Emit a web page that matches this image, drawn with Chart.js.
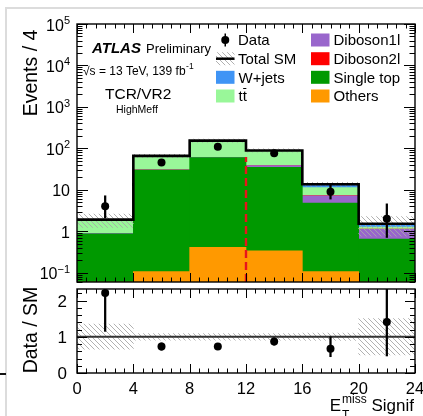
<!DOCTYPE html>
<html lang="en">
<head>
    <meta charset="UTF-8">
    <title>TCR/VR2 HighMeff - E_T^miss significance</title>
    <style>
        body {
            margin: 0;
            background-color: #fff;
        }

        .plot {
            position: relative;
            width: 423px;
            height: 416px;
            overflow: hidden;
        }

        .plot canvas {
            position: absolute;
            left: 0;
            top: 0;
        }

        .edge-top {
            position: absolute;
            left: 5px;
            top: 7px;
            width: 418px;
            height: 2px;
            background-color: #dcdcdc;
        }

        .edge-left {
            position: absolute;
            left: 5px;
            top: 7px;
            width: 2px;
            height: 409px;
            background-color: #dcdcdc;
        }

        .edge-mark {
            position: absolute;
            left: 0;
            top: 373px;
            width: 6px;
            height: 2px;
            background-color: #111;
        }
    </style>
</head>
<body>
<div class="plot">
    <div class="edge-top"></div>
    <div class="edge-left"></div>
    <div class="edge-mark"></div>
    <canvas id="mainChart" width="423" height="416"></canvas>
    <canvas id="ratioChart" width="423" height="416"></canvas>
</div>

<script src="https://cdn.jsdelivr.net/npm/chart.js"></script>
<script>
    // bins of E_T^miss significance
    const binEdges = [0, 4, 8, 12, 16, 20, 24];
    const binCentres = [2, 6, 10, 14, 18, 22];

    // stacked backgrounds, bottom to top (events / bin)
    const others     = [0, 0.107, 0.41, 0.34, 0.107, 0];
    const singleTop  = [0.87, 29.9, 59.6, 34.7, 4.7, 0.65];
    const diboson1l  = [0.02, 0.3, 0.8, 3.5, 2.4, 0.47];
    const diboson2l  = [0, 0.05, 0.1, 0.15, 0.1, 0.02];
    const ttbar      = [1.0, 35, 92, 49, 4.0, 0.13];
    const wjets      = [0.03, 0.7, 1.5, 1.0, 2.4, 0.25];

    const totalSM    = [1.92, 66, 154, 89, 13.7, 1.52];
    const smBandLow  = [1.25, 60, 140, 81, 12.3, 0.76];
    const smBandHigh = [2.6, 72, 168, 97, 15.3, 2.28];

    const dataCounts = [4, 46, 110, 76, 9, 2];
    const dataLow    = [2.1, 39.3, 99.6, 67.4, 6.0, 0.71];
    const dataHigh   = [7.2, 53.7, 121, 85.6, 13.1, 4.6];

    // lower panel
    const ratioValues = [2.21, 0.73, 0.73, 0.87, 0.67, 1.41];
    const ratioLow    = [1.15, 0.63, 0.66, 0.77, 0.45, 0.47];
    const ratioHigh   = [3.8, 0.83, 0.80, 0.97, 1.0, 3.0];
    const ratioBandLow  = [0.66, 0.91, 0.91, 0.91, 0.9, 0.5];
    const ratioBandHigh = [1.35, 1.09, 1.09, 1.09, 1.1, 1.5];

    // cut line
    const cutValue = 12;
    const cutTop = 62;

    // axis labels
    const mainDecades = [-1, 0, 1, 2, 3, 4, 5];
    const ratioYTicks = [0, 1, 2];
    const xTicks = [0, 4, 8, 12, 16, 20, 24];

    const FONT = '"Liberation Sans", Arial, Helvetica, sans-serif';

    const colours = {
        others: '#ff9900',
        singleTop: '#009900',
        diboson1l: '#9966cc',
        diboson2l: '#ff0000',
        ttbar: '#99f799',
        wjets: '#3f94f5'
    };

    function makeHatch(colour) {
        const c = document.createElement('canvas');
        c.width = 5;
        c.height = 5;
        const g = c.getContext('2d');
        g.strokeStyle = colour;
        g.lineWidth = 0.9;
        g.beginPath();
        g.moveTo(-1, -1); g.lineTo(6, 6);
        g.moveTo(-1, 4); g.lineTo(1, 6);
        g.moveTo(4, -1); g.lineTo(6, 1);
        g.stroke();
        return g.createPattern(c, 'repeat');
    }

    const hatch = makeHatch('#a8a8a8');

    const atBins = values => binCentres.map((x, i) => ({x: x, y: values[i]}));
    const rangeAtBins = (lo, hi) => binCentres.map((x, i) => ({x: x, y: [lo[i], hi[i]]}));
    const stepPoints = values => binEdges.map((x, i) => ({x: x, y: values[Math.min(i, values.length - 1)]}));

    function text(ctx, str, x, y, font, align) {
        ctx.font = font;
        ctx.textAlign = align || 'left';
        ctx.textBaseline = 'alphabetic';
        ctx.fillStyle = '#000';
        ctx.fillText(str, x, y);
    }

    function rotatedText(ctx, str, x, y, font) {
        ctx.save();
        ctx.translate(x, y);
        ctx.rotate(-Math.PI / 2);
        text(ctx, str, 0, 0, font, 'center');
        ctx.restore();
    }

    function tick(ctx, x1, y1, x2, y2) {
        ctx.beginPath();
        ctx.moveTo(x1, y1);
        ctx.lineTo(x2, y2);
        ctx.stroke();
    }

    // frame + inward ticks along x (shared by both panels)
    function drawFrameAndXTicks(chart) {
        const ctx = chart.ctx;
        const a = chart.chartArea;
        const xs = chart.scales.x;
        ctx.save();
        ctx.strokeStyle = '#000';
        ctx.lineWidth = 1;
        for (let k = 0; k <= 36; k++) {
            const v = k * 4 / 6;
            const px = Math.round(xs.getPixelForValue(v)) + 0.5;
            const len = k % 6 === 0 ? 9 : 4.5;
            tick(ctx, px, a.bottom, px, a.bottom - len);
            tick(ctx, px, a.top, px, a.top + len);
        }
        ctx.lineWidth = 1.4;
        ctx.strokeRect(a.left, a.top, a.right - a.left, a.bottom - a.top);
        ctx.restore();
    }

    const mainDecor = {
        id: 'mainDecor',
        afterDraw(chart) {
            const ctx = chart.ctx;
            const a = chart.chartArea;
            const ys = chart.scales.y;
            drawFrameAndXTicks(chart);

            // log ticks on both sides
            ctx.save();
            ctx.strokeStyle = '#000';
            ctx.lineWidth = 1;
            for (let e = -2; e <= 5; e++) {
                for (let m = 1; m <= 9; m++) {
                    const v = m * Math.pow(10, e);
                    if (v < ys.min || v > ys.max) continue;
                    const py = Math.round(ys.getPixelForValue(v)) + 0.5;
                    const len = m === 1 ? 11 : 5.5;
                    tick(ctx, a.left, py, a.left + len, py);
                    tick(ctx, a.right, py, a.right - len, py);
                }
            }
            ctx.restore();

            // y tick labels with exponents
            mainDecades.forEach(e => {
                const py = ys.getPixelForValue(Math.pow(10, e));
                const right = a.left - 7;
                if (e === 0 || e === 1) {
                    text(ctx, e === 0 ? '1' : '10', right, py + 6.5, '16px ' + FONT, 'right');
                } else {
                    const sup = e < 0 ? '\u2212' + (-e) : String(e);
                    ctx.font = '11px ' + FONT;
                    const sw = ctx.measureText(sup).width;
                    text(ctx, sup, right, py, '11px ' + FONT, 'right');
                    text(ctx, '10', right - sw, py + 6.5, '16px ' + FONT, 'right');
                }
            });

            rotatedText(ctx, 'Events / 4', 37, 73, '19.5px ' + FONT);

            // labels
            text(ctx, 'ATLAS', 92, 53, 'italic bold 15px ' + FONT);
            text(ctx, 'Preliminary', 146, 53, '13px ' + FONT);
            text(ctx, '\u221As = 13 TeV, 139 fb', 83, 74.5, '12px ' + FONT);
            ctx.font = '12px ' + FONT;
            const w = ctx.measureText('\u221As = 13 TeV, 139 fb').width;
            text(ctx, '-1', 83 + w + 0.5, 69, '8.5px ' + FONT);
            text(ctx, 'TCR/VR2', 105, 98.5, '15.5px ' + FONT);
            text(ctx, 'HighMeff', 116, 112.5, '10.5px ' + FONT);

            // legend
            const rows = [40, 58.7, 77.3, 96];
            const leftBox = 216, rightBox = 311, boxW = 18.5, boxH = 13;
            const lf = '15px ' + FONT;

            // Data
            ctx.save();
            ctx.fillStyle = '#000';
            ctx.strokeStyle = '#000';
            ctx.lineWidth = 1.5;
            tick(ctx, leftBox + boxW / 2, rows[0] - 6.5, leftBox + boxW / 2, rows[0] + 6.5);
            ctx.beginPath();
            ctx.arc(leftBox + boxW / 2, rows[0], 4, 0, Math.PI * 2);
            ctx.fill();
            // Total SM
            ctx.fillStyle = hatch;
            ctx.fillRect(leftBox, rows[1] - boxH / 2, boxW, boxH);
            ctx.lineWidth = 2.5;
            tick(ctx, leftBox, rows[1], leftBox + boxW, rows[1]);
            ctx.restore();
            text(ctx, 'Data', 238, rows[0] + 5.4, lf);
            text(ctx, 'Total SM', 238, rows[1] + 5.4, lf);

            const boxes = [
                [leftBox, rows[2], colours.wjets, 'W+jets'],
                [leftBox, rows[3], colours.ttbar, 'tt'],
                [rightBox, rows[0], colours.diboson1l, 'Diboson1l'],
                [rightBox, rows[1], colours.diboson2l, 'Diboson2l'],
                [rightBox, rows[2], colours.singleTop, 'Single top'],
                [rightBox, rows[3], colours.others, 'Others']
            ];
            boxes.forEach(b => {
                ctx.fillStyle = b[2];
                ctx.fillRect(b[0], b[1] - boxH / 2, boxW, boxH);
                text(ctx, b[3], b[0] + 22.5, b[1] + 5.4, lf);
            });
            // bar over the second t of ttbar
            ctx.font = lf;
            const tw = ctx.measureText('t').width;
            ctx.save();
            ctx.strokeStyle = '#000';
            ctx.lineWidth = 1;
            tick(ctx, leftBox + 22.5 + tw + 0.5, rows[3] - 7.5, leftBox + 22.5 + 2 * tw - 0.5, rows[3] - 7.5);
            ctx.restore();
        }
    };

    const ratioDecor = {
        id: 'ratioDecor',
        afterDraw(chart) {
            const ctx = chart.ctx;
            const a = chart.chartArea;
            const xs = chart.scales.x;
            const ys = chart.scales.y;
            drawFrameAndXTicks(chart);

            ctx.save();
            ctx.strokeStyle = '#000';
            ctx.lineWidth = 1;
            for (let k = 0; k <= 11; k++) {
                const v = k * 0.2;
                const py = Math.round(ys.getPixelForValue(v)) + 0.5;
                const len = k % 5 === 0 ? 10 : 5;
                tick(ctx, a.left, py, a.left + len, py);
                tick(ctx, a.right, py, a.right - len, py);
            }
            ctx.restore();

            ratioYTicks.forEach(v => {
                text(ctx, String(v), a.left - 10, ys.getPixelForValue(v) + 6, '17px ' + FONT, 'right');
            });
            xTicks.forEach(v => {
                text(ctx, String(v), xs.getPixelForValue(v), 393.5, '16.5px ' + FONT, 'center');
            });

            rotatedText(ctx, 'Data / SM', 37, 330, '19.5px ' + FONT);

            // x axis title, right aligned to the frame
            const tf = '17px ' + FONT, sf = '12px ' + FONT;
            ctx.font = tf;
            const wSig = ctx.measureText(' Signif').width;
            ctx.font = sf;
            const wMiss = ctx.measureText('miss').width;
            ctx.font = tf;
            const wE = ctx.measureText('E').width;
            const xEnd = a.right - 1;
            const xE = xEnd - wSig - wMiss - wE - 1;
            text(ctx, 'E', xE, 411, tf);
            text(ctx, 'miss', xE + wE + 1, 403, sf);
            text(ctx, 'T', xE + wE + 1, 419, sf);
            text(ctx, ' Signif', xEnd, 411, tf, 'right');
        }
    };

    const sharedBar = {
        grouped: false,
        barPercentage: 1,
        categoryPercentage: 1,
        borderWidth: 0
    };

    const stackLayers = [
        ['Others', others, colours.others],
        ['Single top', singleTop, colours.singleTop],
        ['Diboson1l', diboson1l, colours.diboson1l],
        ['Diboson2l', diboson2l, colours.diboson2l],
        ['ttbar', ttbar, colours.ttbar],
        ['W+jets', wjets, colours.wjets]
    ];

    new Chart(document.getElementById('mainChart'), {
        type: 'bar',
        data: {
            datasets: stackLayers.map(l => ({
                type: 'bar',
                label: l[0],
                data: atBins(l[1]),
                backgroundColor: l[2],
                stack: 'sm',
                order: 5
            })).concat([
                {
                    type: 'bar',
                    label: 'SM uncertainty',
                    data: rangeAtBins(smBandLow, smBandHigh),
                    backgroundColor: hatch,
                    stack: 'band',
                    order: 4
                },
                {
                    type: 'line',
                    label: 'Total SM',
                    data: stepPoints(totalSM),
                    stepped: 'before',
                    borderColor: '#000',
                    borderWidth: 2.6,
                    pointRadius: 0,
                    stack: 'total',
                    order: 3
                },
                {
                    type: 'line',
                    label: 'cut',
                    data: [{x: cutValue, y: 0.06}, {x: cutValue, y: cutTop}],
                    borderColor: '#e8141c',
                    borderWidth: 2.4,
                    borderDash: [8, 4],
                    pointRadius: 0,
                    stack: 'cut',
                    order: 2
                },
                {
                    type: 'bar',
                    label: 'Data error',
                    data: rangeAtBins(dataLow, dataHigh),
                    backgroundColor: '#000',
                    barThickness: 1.6,
                    stack: 'dataErr',
                    order: 1
                },
                {
                    type: 'line',
                    label: 'Data',
                    data: atBins(dataCounts),
                    showLine: false,
                    pointRadius: 4,
                    pointBorderWidth: 0,
                    pointBackgroundColor: '#000',
                    stack: 'data',
                    order: 0
                }
            ])
        },
        options: {
            responsive: false,
            animation: false,
            events: [],
            datasets: {bar: sharedBar},
            layout: {padding: {left: 77, right: 8, top: 24, bottom: 134}},
            plugins: {legend: {display: false}, tooltip: {enabled: false}},
            scales: {
                x: {type: 'linear', min: 0, max: 24, offset: false, display: false, ticks: {stepSize: 4}},
                y: {type: 'logarithmic', min: 0.06, max: 1e5, display: false, stacked: true}
            }
        },
        plugins: [mainDecor]
    });

    new Chart(document.getElementById('ratioChart'), {
        type: 'bar',
        data: {
            datasets: [
                {
                    type: 'bar',
                    label: 'SM uncertainty',
                    data: rangeAtBins(ratioBandLow, ratioBandHigh),
                    backgroundColor: hatch,
                    order: 4
                },
                {
                    type: 'line',
                    label: 'unity',
                    data: [{x: binEdges[0], y: 1}, {x: binEdges[binEdges.length - 1], y: 1}],
                    borderColor: '#333',
                    borderWidth: 2,
                    pointRadius: 0,
                    order: 3
                },
                {
                    type: 'bar',
                    label: 'Ratio error',
                    data: rangeAtBins(ratioLow, ratioHigh),
                    backgroundColor: '#000',
                    barThickness: 1.6,
                    order: 1
                },
                {
                    type: 'line',
                    label: 'Data / SM',
                    data: atBins(ratioValues),
                    showLine: false,
                    pointRadius: 4,
                    pointBorderWidth: 0,
                    pointBackgroundColor: '#000',
                    order: 0
                }
            ]
        },
        options: {
            responsive: false,
            animation: false,
            events: [],
            datasets: {bar: sharedBar},
            layout: {padding: {left: 77, right: 8, top: 289, bottom: 43}},
            plugins: {legend: {display: false}, tooltip: {enabled: false}},
            scales: {
                x: {type: 'linear', min: 0, max: 24, offset: false, display: false, ticks: {stepSize: 4}},
                y: {type: 'linear', min: 0, max: 2.32, display: false}
            }
        },
        plugins: [ratioDecor]
    });
</script>
</body>
</html>
